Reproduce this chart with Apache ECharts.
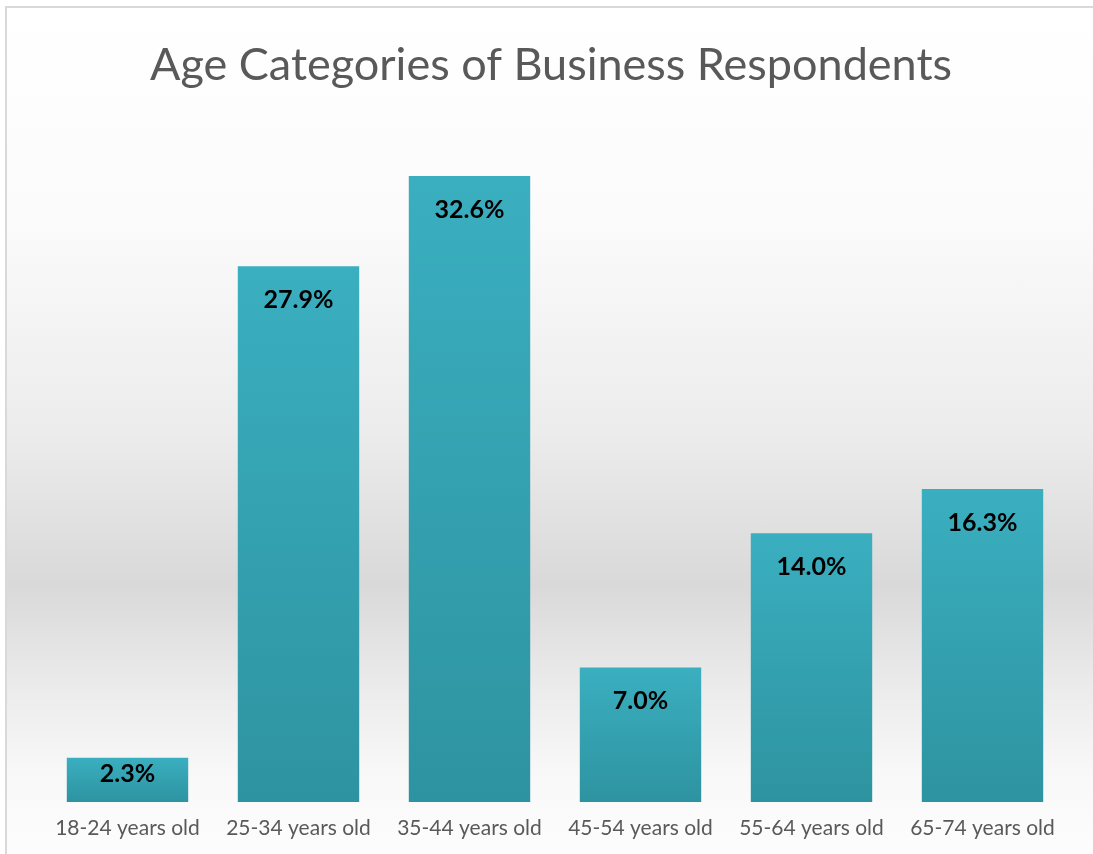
<!DOCTYPE html>
<html>
<head>
<meta charset="utf-8">
<script src="https://cdn.jsdelivr.net/npm/echarts@6/dist/echarts.min.js"></script>
<style>
  html, body { margin: 0; padding: 0; background: #fff; }
  #chart {
    position: absolute; left: 5px; top: 6px;
    width: 1088px; height: 848px;
    border-top: 2px solid #d9d9d9; border-left: 2px solid #d9d9d9;
    background: linear-gradient(to bottom, #ffffff 0%, #fbfbfb 25%, #ececec 50%, #d9d9d9 68%, #ebebeb 80%, #f8f8f8 90%, #fdfdfd 100%);
  }
</style>
</head>
<body>
<div id="chart"></div>
<script>
// 数据
var categories = ['18-24 years old', '25-34 years old', '35-44 years old', '45-54 years old', '55-64 years old', '65-74 years old'];
var percents = [2.3, 27.9, 32.6, 7.0, 14.0, 16.3];
var titleText = 'Age Categories of Business Respondents';

// 矮柱子的标签贴近顶部
var barData = percents.map(function (v) {
  if (v < 5) return { value: v, label: { distance: 4 } };
  return v;
});

var chart = echarts.init(document.getElementById('chart'));
var option = {
  backgroundColor: 'transparent',
  textStyle: { fontFamily: 'Lato' },
  title: {
    text: titleText,
    left: 'center',
    top: 30,
    textStyle: { fontSize: 45, fontWeight: 'normal', color: '#595959', fontFamily: 'Lato' }
  },
  grid: { left: 35, right: 27, top: 122, bottom: 54 },
  xAxis: {
    type: 'category',
    data: categories,
    axisLine: { show: false },
    axisTick: { show: false },
    axisLabel: { color: '#595959', fontSize: 21, margin: 16, interval: 0 }
  },
  yAxis: {
    type: 'value',
    min: 0,
    max: 35,
    show: false,
    splitLine: { show: false }
  },
  series: [{
    type: 'bar',
    data: barData,
    barCategoryGap: '29%',
    itemStyle: {
      color: new echarts.graphic.LinearGradient(0, 0, 0, 1, [
        { offset: 0, color: '#3aafc0' },
        { offset: 1, color: '#2e93a0' }
      ])
    },
    label: {
      show: true,
      position: 'insideTop',
      distance: 21,
      color: '#000',
      fontWeight: 'bold',
      fontSize: 25,
      formatter: function (p) { return p.value.toFixed(1) + '%'; }
    }
  }]
};
chart.setOption(option);
</script>
</body>
</html>
